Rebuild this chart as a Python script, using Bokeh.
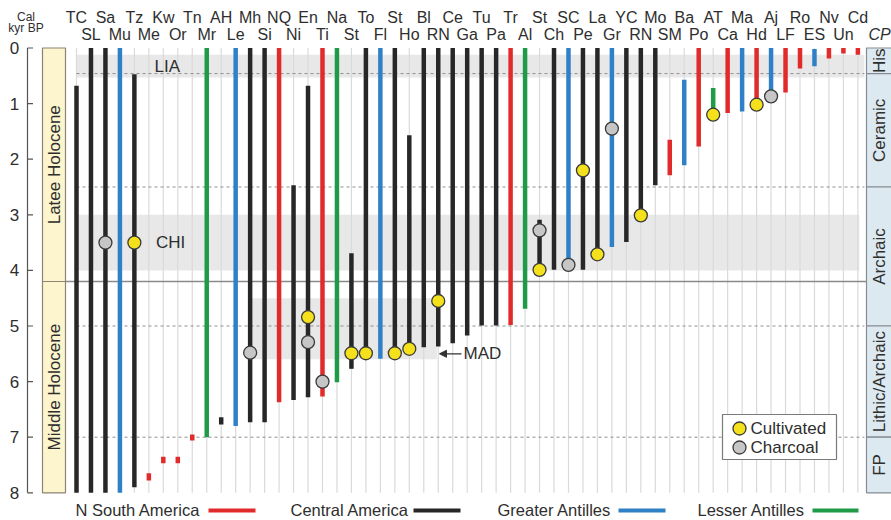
from math import pi

from bokeh.plotting import figure
from bokeh.models import Range1d, Arrow, NormalHead
from bokeh.core.properties import value
from bokeh.embed import file_html
from bokeh.resources import INLINE

# ---------------------------------------------------------------- data
# site codes, left to right (one column each)
sites = ["TC", "SL", "Sa", "Mu", "Tz", "Me", "Kw", "Or", "Tn", "Mr",
         "AH", "Le", "Mh", "Si", "NQ", "Ni", "En", "Ti", "Na", "St",
         "To", "Fl", "St", "Ho", "Bl", "RN", "Ce", "Ga", "Tu", "Pa",
         "Tr", "Al", "St", "Ch", "SC", "Pe", "La", "Gr", "YC", "RN",
         "Mo", "SM", "Ba", "Po", "AT", "Ca", "Ma", "Hd", "Aj", "LF",
         "Ro", "ES", "Nv", "Un", "Cd"]

# S = N South America, C = Central America, G = Greater Antilles, L = Lesser Antilles
site_region = ["C", "C", "C", "G", "C", "S", "S", "S", "S", "L",
               "C", "G", "C", "C", "S", "C", "C", "S", "L", "C",
               "C", "G", "C", "C", "C", "C", "C", "C", "C", "C",
               "S", "L", "C", "C", "G", "C", "C", "G", "C", "C",
               "C", "S", "G", "S", "L", "S", "G", "S", "G", "S",
               "S", "G", "S", "S", "S"]

# youngest and oldest part of each record (cal kyr BP)
record_young = [0.68, 0.00, 0.00, 0.00, 0.47, 7.65, 7.35, 7.35, 6.95, 0.00,
                6.64, 0.00, 0.00, 0.00, 0.00, 2.47, 0.68, 0.00, 0.00, 3.69,
                0.00, 0.00, 0.00, 1.57, 0.00, 0.00, 0.00, 0.00, 0.00, 0.00,
                0.00, 0.00, 3.09, 0.00, 0.00, 0.00, 0.00, 0.00, 0.00, 0.00,
                0.00, 1.65, 0.57, 0.00, 0.72, 0.00, 0.00, 0.00, 0.00, 0.00,
                0.00, 0.02, 0.00, 0.00, 0.00]
record_old = [8.00, 8.00, 8.00, 8.00, 7.90, 7.78, 7.47, 7.47, 7.06, 7.00,
              6.77, 6.80, 6.73, 6.73, 6.37, 6.33, 6.28, 6.27, 6.01, 5.77,
              5.52, 5.59, 5.50, 5.42, 5.38, 5.37, 5.31, 5.17, 4.99, 4.99,
              4.98, 4.69, 3.99, 3.99, 3.90, 3.99, 3.71, 3.58, 3.49, 3.01,
              2.47, 2.29, 2.11, 1.77, 1.20, 1.17, 1.14, 1.02, 0.87, 0.80,
              0.37, 0.33, 0.19, 0.10, 0.12]

# earliest evidence: cultivated plants and charcoal (column, cal kyr BP)
cultivated_site = [4, 16, 19, 20, 22, 23, 25, 32, 35, 36, 39, 44, 47]
cultivated_age = [3.50, 4.84, 5.49, 5.49, 5.49, 5.41, 4.55, 3.99, 2.20, 3.71, 3.01, 1.20, 1.02]
charcoal_site = [2, 12, 16, 17, 32, 34, 37, 48]
charcoal_age = [3.50, 5.48, 5.29, 6.00, 3.28, 3.90, 1.45, 0.87]

kyr_ticks = [0, 1, 2, 3, 4, 5, 6, 7, 8]
period_bounds = [0.0, 0.46, 2.5, 5.0, 7.0, 8.0]
period_names = ["His", "Ceramic", "Archaic", "Lithic/Archaic", "FP"]
holocene_split = 4.2
holocene_names = ["Latee Holocene", "Middle Holocene"]

# climate events: (name, young, old, first column, last column)
lia = ("LIA", 0.12, 0.53)
chi = ("CHI", 3.0, 4.0)
mad = ("MAD", 4.5, 5.6, 12, 25)

region_names = ["N South America", "Central America", "Greater Antilles", "Lesser Antilles"]
region_keys = ["S", "C", "G", "L"]

# ---------------------------------------------------------------- styles
COLORS = {"S": "#e12a2a", "C": "#272727", "G": "#2f80c6", "L": "#1f9a47"}
FONT = value("Liberation Sans")
TXT = "#2e2e2e"

# canvas geometry: pixels per column / per kyr and where column 0 / age 0 sit
W, H = 891, 520
PX_COL, X0 = 14.47, 76.0
PX_KYR, Y0 = 55.6, 47.5


def sx(px):
    """canvas x pixel -> column units"""
    return (px - X0) / PX_COL


def sy(px):
    """canvas y pixel -> kyr units"""
    return (px - Y0) / PX_KYR


p = figure(width=W, height=H,
           x_range=Range1d(sx(0), sx(W)),
           y_range=Range1d(sy(H), sy(0)),
           x_axis_type=None, y_axis_type=None,
           output_backend="svg", toolbar_location=None,
           min_border=0, outline_line_color=None,
           background_fill_color="white", border_fill_color="white")
p.grid.visible = False

n = len(sites)
cols = list(range(n))
last = n - 1

# ---------------------------------------------------------------- background
band = "#e8e8e8"
p.quad(left=[0], right=[last + 0.45], top=[lia[1]], bottom=[lia[2]],
       fill_color=band, line_color=None)
p.quad(left=[0], right=[last + 0.1], top=[chi[1]], bottom=[chi[2]],
       fill_color=band, line_color=None)
p.quad(left=[mad[3] + 0.1], right=[mad[4] - 0.1], top=[mad[1]], bottom=[mad[2]],
       fill_color=band, line_color=None)

# column guides
p.segment(x0=cols, x1=cols, y0=[0] * n, y1=[8] * n, line_color="#dadada", line_width=1.2)

# period boundaries
inner = period_bounds[1:-1]
p.segment(x0=[0] * len(inner), x1=[last + 0.45] * len(inner), y0=inner, y1=inner,
          line_color="#8f8f8f", line_width=1, line_dash="3 3")
# Late / Middle Holocene boundary
p.segment(x0=[sx(65)], x1=[sx(866)], y0=[holocene_split], y1=[holocene_split],
          line_color="#8a8a8a", line_width=1.4)

# ---------------------------------------------------------------- records
p.vbar(x=cols, bottom=record_young, top=record_old, width=0.31,
       fill_color=[COLORS[r] for r in site_region], line_color=None)

p.scatter(x=charcoal_site, y=charcoal_age, size=13, fill_color="#c6c6c6",
          line_color="#3a3a3a", line_width=1.3)
p.scatter(x=cultivated_site, y=cultivated_age, size=13, fill_color="#f4e11b",
          line_color="#3a3a3a", line_width=1.3)

# event labels
p.text(x=[6.27], y=[(lia[1] + lia[2]) / 2], text=[lia[0]], text_font=FONT,
       text_font_size="17px", text_color=TXT, text_align="center", text_baseline="middle")
p.text(x=[6.5], y=[(chi[1] + chi[2]) / 2], text=[chi[0]], text_font=FONT,
       text_font_size="17px", text_color=TXT, text_align="center", text_baseline="middle")
p.text(x=[sx(463)], y=[5.5], text=[mad[0]], text_font=FONT,
       text_font_size="17px", text_color=TXT, text_align="left", text_baseline="middle")
p.add_layout(Arrow(end=NormalHead(size=7, fill_color="#333333", line_color="#333333"),
                   x_start=sx(461), y_start=5.5, x_end=sx(439), y_end=5.5,
                   line_color="#333333", line_width=1.3))

# ---------------------------------------------------------------- site labels
even = cols[0::2]
odd = cols[1::2]
p.text(x=even, y=[sy(16.5)] * len(even), text=[sites[i] for i in even], text_font=FONT,
       text_font_size="16px", text_color=TXT, text_align="center", text_baseline="middle")
p.text(x=odd, y=[sy(34)] * len(odd), text=[sites[i] for i in odd], text_font=FONT,
       text_font_size="16px", text_color=TXT, text_align="center", text_baseline="middle")

# ---------------------------------------------------------------- age axis
ax = sx(27)
p.segment(x0=[ax], x1=[ax], y0=[kyr_ticks[0]], y1=[kyr_ticks[-1]], line_color="#555555", line_width=1.2)
p.segment(x0=[ax] * len(kyr_ticks), x1=[sx(32.5)] * len(kyr_ticks), y0=kyr_ticks, y1=kyr_ticks,
          line_color="#555555", line_width=1.2)
p.text(x=[sx(14)] * len(kyr_ticks), y=kyr_ticks, text=[str(t) for t in kyr_ticks], text_font=FONT,
       text_font_size="17px", text_color=TXT, text_align="center", text_baseline="middle")
p.text(x=[sx(25.5)] * 2, y=[sy(16), sy(27)], text=["Cal", "kyr BP"], text_font=FONT,
       text_font_size="12px", text_color=TXT, text_align="center", text_baseline="middle")

# Holocene stages
p.quad(left=[sx(42)] * 2, right=[sx(65)] * 2, top=[0, holocene_split], bottom=[holocene_split, 8],
       fill_color="#fcf5cd", line_color="#8b8373", line_width=1.2)
p.text(x=[sx(53.5)] * 2, y=[holocene_split / 2, (holocene_split + 8) / 2], text=holocene_names,
       angle=pi / 2, text_font=FONT, text_font_size="17px", text_color=TXT,
       text_align="center", text_baseline="middle")

# ---------------------------------------------------------------- cultural periods
p.quad(left=[sx(866)] * len(period_names), right=[sx(W + 5)] * len(period_names),
       top=period_bounds[:-1], bottom=period_bounds[1:],
       fill_color="#dde9f0", line_color="#858b92", line_width=1.2)
mids = [(a + b) / 2 for a, b in zip(period_bounds[:-1], period_bounds[1:])]
p.text(x=[sx(879)] * len(period_names), y=mids, text=period_names, angle=pi / 2,
       text_font=FONT, text_font_size="17px", text_color=TXT,
       text_align="center", text_baseline="middle")
p.text(x=[sx(879)], y=[sy(34)], text=["CP"], text_font=FONT, text_font_style="italic",
       text_font_size="16px", text_color=TXT, text_align="center", text_baseline="middle")

# ---------------------------------------------------------------- evidence key
p.quad(left=[sx(722)], right=[sx(836)], top=[sy(414)], bottom=[sy(459)],
       fill_color="white", line_color="#7a7a7a", line_width=1.2)
p.scatter(x=[sx(739)] * 2, y=[sy(428), sy(447)], size=13,
          fill_color=["#f4e11b", "#c6c6c6"], line_color="#3a3a3a", line_width=1.3)
p.text(x=[sx(750)] * 2, y=[sy(428), sy(447)], text=["Cultivated", "Charcoal"], text_font=FONT,
       text_font_size="17px", text_color=TXT, text_align="left", text_baseline="middle")

# ---------------------------------------------------------------- region key
key_text_x = [sx(75), sx(290), sx(497), sx(697)]
key_line = [(208, 255), (413, 460), (618, 665), (812, 858)]
key_y = sy(509)
p.text(x=key_text_x, y=[key_y] * 4, text=region_names, text_font=FONT,
       text_font_size="16.5px", text_color=TXT, text_align="left", text_baseline="middle")
p.segment(x0=[sx(a) for a, _ in key_line], x1=[sx(b) for _, b in key_line],
          y0=[key_y + 0.02] * 4, y1=[key_y + 0.02] * 4,
          line_color=[COLORS[k] for k in region_keys], line_width=4)

open("out.html", "w").write(file_html(p, INLINE))
